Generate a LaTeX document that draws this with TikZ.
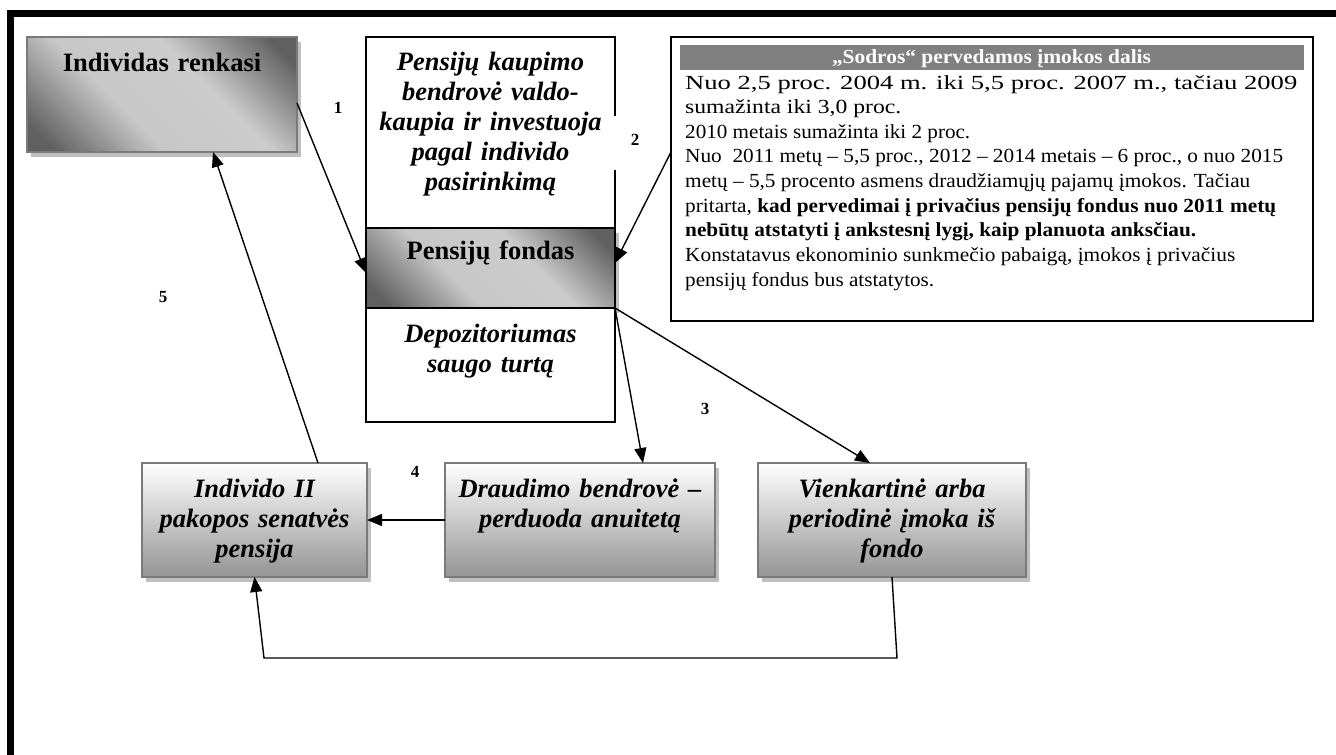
\documentclass[tikz,border=0pt]{standalone}
\usepackage{fontspec}
\setmainfont{Liberation Serif}
\usepackage{graphicx}
\usetikzlibrary{arrows.meta,shadows}

% light band along one diagonal, dark in the two other corners
\pgfdeclarehorizontalshading{diagband}{100bp}{color(0bp)=(black!64); color(20bp)=(black!62); color(40bp)=(black!22); color(60bp)=(black!20); color(80bp)=(black!62); color(100bp)=(black!64)}
% white at the top, mid grey at the bottom
\pgfdeclareverticalshading{fadegray}{100bp}{color(0bp)=(black!42); color(25bp)=(black!42); color(75bp)=(white); color(100bp)=(white)}

% stretch a line of text to a given width, keeping its height
\newcommand\fitw[2]{\resizebox{#1}{\height}{#2}}

\begin{document}
\begin{tikzpicture}[x=1pt, y=-1pt,
  shadowed/.style={drop shadow={shadow xshift=4pt, shadow yshift=-5pt, fill=black!25, opacity=1}},
  diagbox/.style={shadowed, draw=black!52, line width=2.5pt, shading=diagband, shading angle=45, inner sep=0, outer sep=0},
  fadebox/.style={shadowed, draw=black!52, line width=2.5pt, shading=fadegray, inner sep=0, outer sep=0},
  plainbox/.style={draw=black, line width=1.3pt, fill=white, inner sep=0, outer sep=0},
  titleit/.style={font=\fontsize{26.5}{30}\selectfont\bfseries\itshape, align=center, inner sep=0, anchor=base},
  titleup/.style={font=\fontsize{26.5}{30}\selectfont\bfseries, align=center, inner sep=0, anchor=base},
  notetext/.style={font=\fontsize{20}{24}\selectfont, anchor=base west, inner sep=0},
  num/.style={font=\fontsize{17}{20}\selectfont\bfseries, inner sep=0},
  conn/.style={line width=1.4pt, -{Triangle[length=15pt,width=12pt]}}
]
\useasboundingbox (0,0) rectangle (1336,755);

% page frame: thick rule on top and on the left
\fill (7,10) rectangle (1336,17);
\fill (7,10) rectangle (14,755);

% top left box
\node[diagbox, minimum width=270pt, minimum height=115pt] (ind) at (162,94.5) {};
\node[titleup, text width=270pt] (indT) at (162,71) {Individas renkasi};

% central column: company, fund, depository
\node[plainbox, shadowed, draw=black, line width=1.3pt, shading=diagband, shading angle=45, minimum width=249pt, minimum height=80pt] (fond) at (490.5,268) {};
\node[plainbox, minimum width=249pt, minimum height=191pt] (kaup) at (490.5,132.5) {};
\node[plainbox, minimum width=249pt, minimum height=114pt] (depo) at (490.5,365) {};
\draw[white, line width=3pt] (kaup.east |- 0,116) -- (kaup.east |- 0,170);
\node[titleit, text width=249pt] (kaupT) at (490.5,70) {Pensijų kaupimo\\bendrovė valdo-\\kaupia ir investuoja\\pagal individo\\pasirinkimą};
\node[titleup, text width=249pt] (fondT) at (490.5,259) {Pensijų fondas};
\node[titleit, text width=249pt] (depoT) at (490.5,342) {Depozitoriumas\\saugo turtą};

% contribution note
\node[plainbox, line width=1.5pt, minimum width=642pt, minimum height=284pt] (note) at (992,179) {};
\node[fill=black!50, inner sep=0, minimum width=624pt, minimum height=25pt] (bar) at (992,57.5) {};
\node[font=\fontsize{20}{24}\selectfont\bfseries, text=white, anchor=base, inner sep=0] (barT) at (991.5,63) {\fitw{319pt}{„Sodros“ pervedamos įmokos dalis}};
\node[notetext] (n1) at (685,89) {\fitw{612pt}{Nuo 2,5 proc. 2004 m. iki 5,5 proc. 2007 m., tačiau 2009}};
\node[notetext] (n2) at (685,113) {\fitw{216pt}{sumažinta iki 3,0 proc.}};
\node[notetext] (n3) at (685,138) {\fitw{285pt}{2010 metais sumažinta iki 2 proc.}};
\node[notetext] (n4) at (685,162) {\fitw{598pt}{Nuo\ \ 2011 metų – 5,5 proc., 2012 – 2014 metais – 6 proc., o nuo 2015}};
\node[notetext] (n5) at (685,187) {\fitw{565pt}{metų – 5,5 procento asmens draudžiamųjų pajamų įmokos. Tačiau}};
\node[notetext] (n6) at (685,212) {\fitw{591pt}{pritarta, \textbf{kad pervedimai į privačius pensijų fondus nuo 2011 metų}}};
\node[notetext] (n7) at (685,236) {\fitw{511pt}{\textbf{nebūtų atstatyti į ankstesnį lygį, kaip planuota anksčiau.}}};
\node[notetext] (n8) at (685,261) {\fitw{550pt}{Konstatavus ekonominio sunkmečio pabaigą, įmokos į privačius}};
\node[notetext] (n9) at (685,286) {\fitw{249pt}{pensijų fondus bus atstatytos.}};

% bottom row
\node[fadebox, minimum width=225pt, minimum height=114pt] (pens) at (254.5,520) {};
\node[fadebox, minimum width=270pt, minimum height=114pt] (draud) at (580,520) {};
\node[fadebox, minimum width=268pt, minimum height=114pt] (vienk) at (892,520) {};
\node[titleit, text width=225pt] (pensT) at (254.5,497) {Individo II\\pakopos senatvės\\pensija};
\node[titleit, text width=270pt] (draudT) at (580,497) {Draudimo bendrovė –\\perduoda anuitetą};
\node[titleit, text width=268pt] (vienkT) at (892,497) {Vienkartinė arba\\periodinė įmoka iš\\fondo};

% step numbers
\node[num] (k1) at (338,108) {1};
\node[num] (k2) at (635,140) {2};
\node[num] (k3) at (705,409) {3};
\node[num] (k4) at (415,472) {4};
\node[num] (k5) at (163,297) {5};

% flows
\coordinate (loopR) at (897,658);
\coordinate (loopL) at (264,658);
\draw[conn] ([yshift=-8.5pt]ind.east) -- ([yshift=-5pt]fond.west);
\draw[conn] ([yshift=27pt]note.west) -- ([yshift=5pt]fond.east);
\draw[conn] ([xshift=63.5pt]pens.north) -- ([xshift=51pt]ind.south);
\draw[conn] (fond.south east) -- ([xshift=63pt]draud.north);
\draw[conn] (fond.south east) -- ([xshift=-22pt]vienk.north);
\draw[conn] (draud.west) -- (pens.east);
\draw[conn] (vienk.south) -- (loopR) -- (loopL) -- (pens.south);
\end{tikzpicture}
\end{document}
